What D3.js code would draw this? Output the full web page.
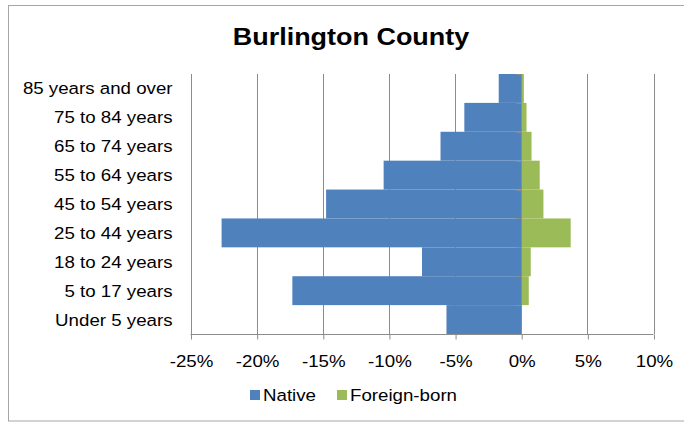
<!DOCTYPE html>
<html>
<head>
<meta charset="utf-8">
<script src="https://cdn.jsdelivr.net/npm/d3@7"></script>
<style>
  body { margin: 0; background: #fff; }
  svg { display: block; font-family: "Liberation Sans", Arial, sans-serif; }
</style>
</head>
<body>
<div id="chart"></div>
<script>
// age groups, top to bottom
var ageGroups = ["85 years and over", "75 to 84 years", "65 to 74 years", "55 to 64 years",
                 "45 to 54 years", "25 to 44 years", "18 to 24 years", "5 to 17 years", "Under 5 years"];
// shares of total population, percent (native shown to the left)
var nativePct  = [-1.7, -4.3, -6.1, -10.4, -14.75, -22.65, -7.5, -17.3, -5.65];
var foreignPct = [0.2, 0.4, 0.78, 1.4, 1.68, 3.74, 0.72, 0.57, 0.05];
var xTicks = [-25, -20, -15, -10, -5, 0, 5, 10];
var seriesNames = ["Native", "Foreign-born"];
var seriesColors = ["#4f81bd", "#9bbb59"];

var width = 684, height = 423;
var stretch = 1.1; // the source text is a bit wider than plain Arial

var svg = d3.select("#chart").append("svg")
    .attr("width", width)
    .attr("height", height);

// text that is widened a little around its anchor point
function addText(parent, px, py, str, size, anchor, bold){
    var t = parent.append("text")
        .attr("transform", "translate(" + px + "," + py + ") scale(" + stretch + ",1)")
        .attr("text-anchor", anchor || "start")
        .style("font-size", size + "px")
        .attr("fill", "#000")
        .text(str);
    if (bold) t.style("font-weight", "bold");
    return t;
}

// chart area border
svg.append("rect")
    .attr("x", 8.5).attr("y", 5.5)
    .attr("width", 690).attr("height", 415.5)
    .attr("fill", "none")
    .attr("stroke", "#a6a6a6");

addText(svg, 351, 45, "Burlington County", 24.5, "middle", true);

var x = d3.scaleLinear().domain([-25, 10]).range([190.5, 653.5]);
var y = d3.scaleBand().domain(ageGroups).range([74, 334]).padding(0);

// vertical gridlines
svg.append("g")
    .selectAll("line")
    .data(xTicks)
    .enter()
    .append("line")
    .attr("x1", function(d){ return Math.round(x(d)) + 0.5; })
    .attr("x2", function(d){ return Math.round(x(d)) + 0.5; })
    .attr("y1", 74).attr("y2", 334)
    .attr("stroke", "#8c8c8c");

// bars
svg.append("g")
    .selectAll("rect")
    .data(nativePct)
    .enter()
    .append("rect")
    .attr("x", function(d){ return x(d); })
    .attr("y", function(d, i){ return y(ageGroups[i]); })
    .attr("width", function(d){ return x(0) - x(d); })
    .attr("height", y.bandwidth())
    .attr("fill", seriesColors[0]);

svg.append("g")
    .selectAll("rect")
    .data(foreignPct)
    .enter()
    .append("rect")
    .attr("x", x(0))
    .attr("y", function(d, i){ return y(ageGroups[i]); })
    .attr("width", function(d){ return x(d) - x(0); })
    .attr("height", y.bandwidth())
    .attr("fill", seriesColors[1]);

// vertical axis at 0 with category ticks
var yAxis = svg.append("g")
    .attr("transform", "translate(" + (Math.round(x(0)) + 0.5) + ",0)");
yAxis.append("line")
    .attr("y1", 74).attr("y2", 334)
    .attr("stroke", "#8c8c8c");
var bounds = ageGroups.map(function(g){ return y(g); }).concat([334]);
yAxis.selectAll("line.tk")
    .data(bounds)
    .enter()
    .append("line")
    .attr("class", "tk")
    .attr("x1", -5).attr("x2", 0)
    .attr("y1", function(d){ return Math.round(d) + 0.5; })
    .attr("y2", function(d){ return Math.round(d) + 0.5; })
    .attr("stroke", "#8c8c8c");

// category labels
var labels = svg.append("g");
ageGroups.forEach(function(g){
    addText(labels, 172.5, y(g) + y.bandwidth() / 2 + 6, g, 17, "end");
});

// horizontal axis
var xAxis = d3.axisBottom(x)
    .tickValues(xTicks)
    .tickSize(5)
    .tickFormat("");
var gx = svg.append("g")
    .attr("transform", "translate(0,334.5)")
    .call(xAxis);
gx.select(".domain").attr("stroke", "#8c8c8c").attr("d", "M190.5,0H653.5");
gx.selectAll(".tick line").attr("stroke", "#8c8c8c")
    .attr("transform", "translate(0.5,0)");
gx.selectAll(".tick").each(function(d){
    addText(d3.select(this), 0.5, 32.5, d + "%", 17, "middle");
});

// legend
var legendX = [250, 337];
var leg = svg.append("g");
seriesNames.forEach(function(name, i){
    leg.append("rect")
        .attr("x", legendX[i]).attr("y", 390)
        .attr("width", 10).attr("height", 10)
        .attr("fill", seriesColors[i]);
    addText(leg, legendX[i] + 13, 401, name, 17, "start");
});
</script>
</body>
</html>
